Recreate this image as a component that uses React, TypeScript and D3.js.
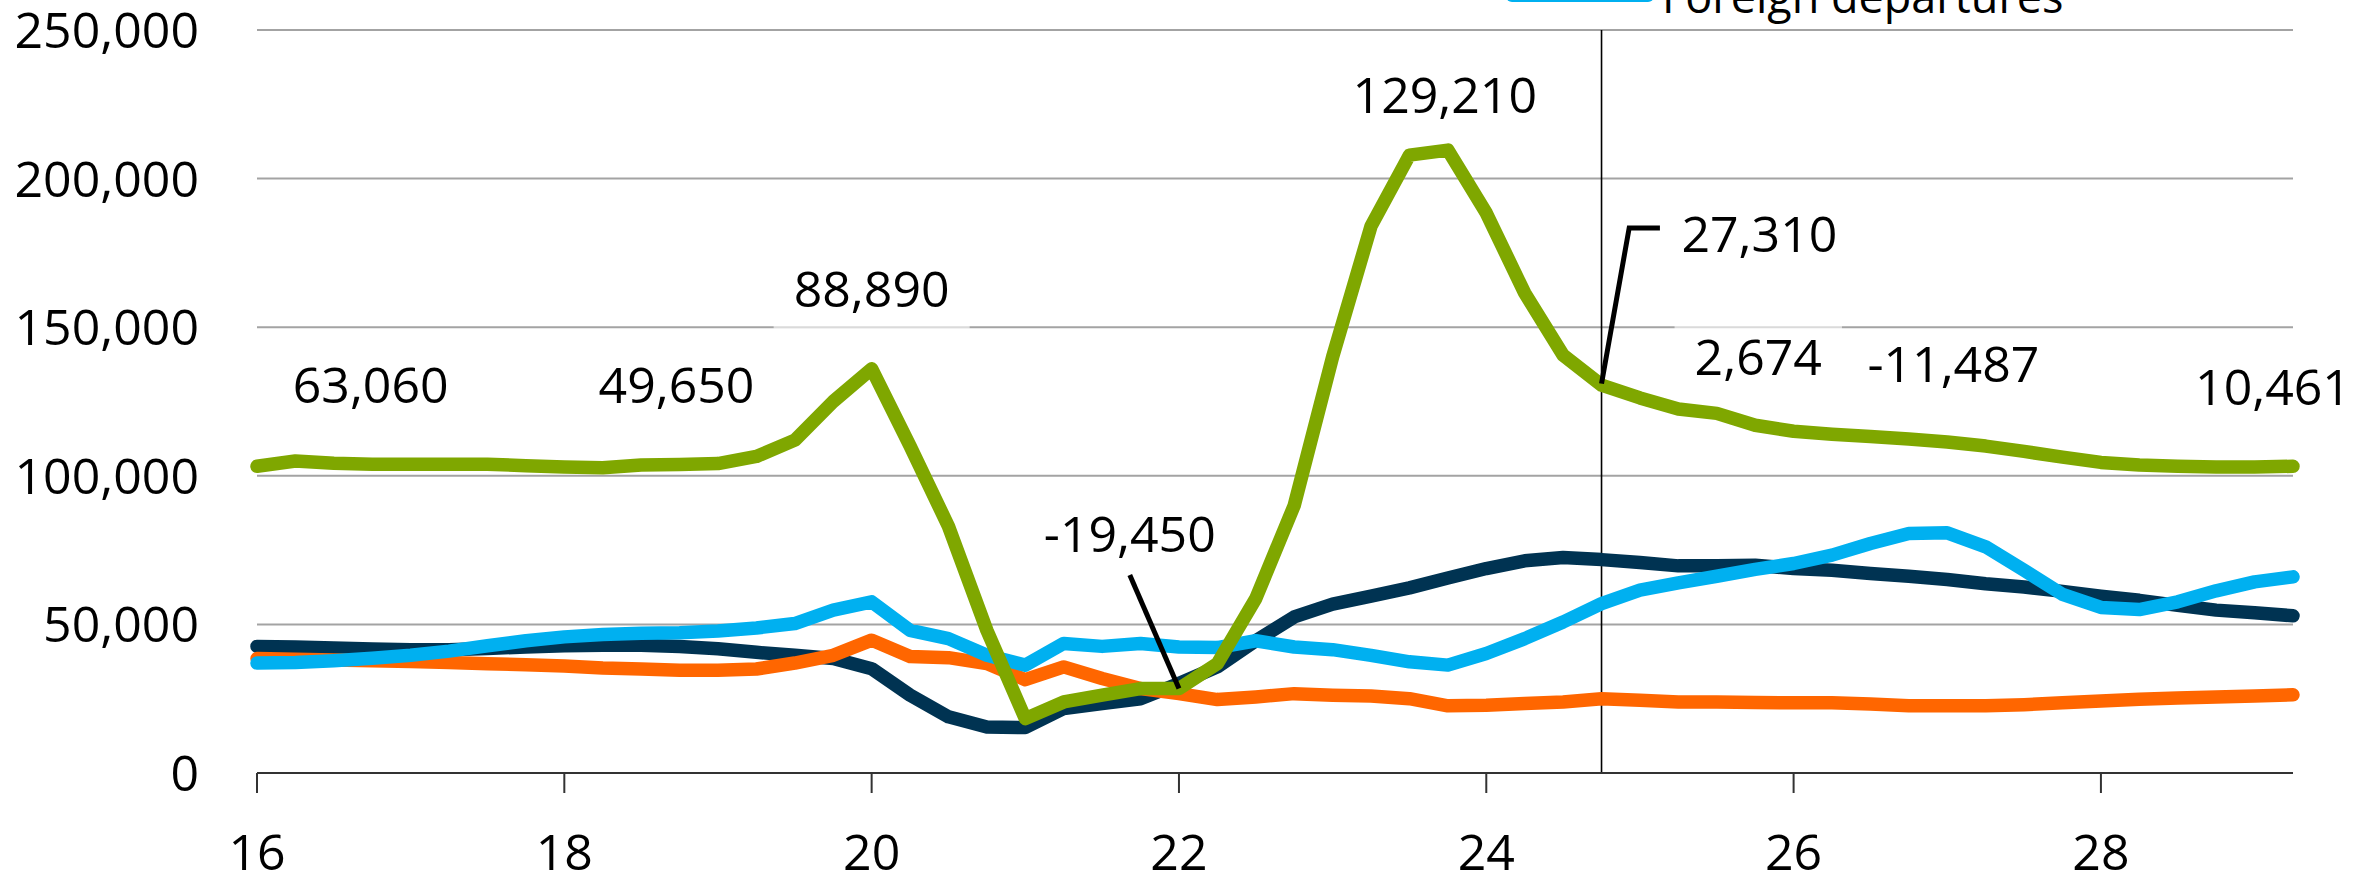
import React from "react";
import * as d3 from "d3";

// Quarters (decimal years, 16 = 2016)
const quarters = [
  16, 16.25, 16.5, 16.75, 17, 17.25, 17.5, 17.75, 18, 18.25, 18.5, 18.75,
  19, 19.25, 19.5, 19.75, 20, 20.25, 20.5, 20.75, 21, 21.25, 21.5, 21.75,
  22, 22.25, 22.5, 22.75, 23, 23.25, 23.5, 23.75, 24, 24.25, 24.5, 24.75,
  25, 25.25, 25.5, 25.75, 26, 26.25, 26.5, 26.75, 27, 27.25, 27.5, 27.75,
  28, 28.25, 28.5, 28.75, 29, 29.25,
];

// Series values (thousands)
const greenSeries = [
  103.2, 105.0, 104.2, 103.9, 103.9, 103.9, 103.9, 103.4, 103.0, 102.7,
  103.6, 103.8, 104.1, 106.5, 112, 125, 136, 110, 83, 48,
  18.3, 23.9, 26.2, 28.4, 28.4, 36.8, 58.7, 90, 140, 184,
  207.9, 209.6, 188.4, 161.5, 140.6, 130.5, 126.2, 122.5, 121, 117,
  115, 114, 113.2, 112.4, 111.4, 110, 108.2, 106.3, 104.5, 103.6,
  103.2, 103, 103, 103.2,
];
const navySeries = [
  42.6, 42.4, 42.1, 41.7, 41.5, 41.5, 41.9, 42.4, 42.8, 43.0,
  43.0, 42.6, 41.8, 40.6, 39.6, 38.5, 35.1, 26.2, 18.9, 15.5,
  15.3, 21.7, 23.4, 25.0, 30.1, 35.7, 44.5, 52.5, 56.8, 59.5,
  62.3, 65.6, 68.8, 71.4, 72.5, 71.8, 70.8, 69.7, 69.7, 69.9,
  68.8, 68.2, 67.1, 66.2, 65.1, 63.7, 62.6, 61.1, 59.5, 58.1,
  56.4, 54.8, 53.9, 52.9,
];
const blueSeries = [
  37.0, 37.2, 37.8, 38.6, 39.6, 41.0, 42.8, 44.5, 45.8, 46.6,
  47.0, 47.2, 47.8, 48.8, 50.3, 54.8, 57.6, 48.0, 45.2, 39.6,
  36.3, 43.6, 42.6, 43.6, 42.4, 42.2, 44.5, 42.4, 41.5, 39.6,
  37.4, 36.3, 40.2, 45.2, 50.8, 57.0, 61.5, 64.0, 66.2, 68.5,
  70.5, 73.3, 77.2, 80.6, 80.8, 76.1, 68.2, 60.1, 55.7, 55.0,
  57.6, 61.3, 64.3, 66.0,
];
const orangeSeries = [
  38.5, 38.3, 38.0, 37.8, 37.5, 37.2, 36.8, 36.4, 36.0, 35.3,
  35.0, 34.6, 34.6, 35.0, 37.0, 39.6, 44.7, 39.2, 38.8, 36.8,
  31.4, 35.7, 31.8, 28.4, 26.7, 24.7, 25.6, 26.7, 26.2, 25.9,
  25.0, 22.6, 22.8, 23.4, 23.9, 25.0, 24.5, 23.9, 23.9, 23.7,
  23.6, 23.6, 23.2, 22.6, 22.6, 22.6, 23.0, 23.6, 24.2, 24.8,
  25.2, 25.6, 25.9, 26.3,
];

const yTicks = [0, 50000, 100000, 150000, 200000, 250000];
const xTicks = [16, 18, 20, 22, 24, 26, 28];
const forecastMarker = 24.75;
const legendLabel = "Foreign departures";

// Annotations (data-space anchors: x in years, y = baseline value)
const annotationTexts = ["63,060", "49,650", "88,890", "129,210", "27,310", "2,674", "-11,487", "10,461", "-19,450"];
const annotationX = [16.74, 18.73, 20.0, 23.73, 25.27, 25.77, 27.04, 29.12, 21.68];
const annotationY = [124500, 124500, 156900, 222200, 175400, 134000, 131600, 123900, 74400];
const annotationAnchor = ["middle", "middle", "middle", "middle", "start", "middle", "middle", "middle", "middle"];

const calloutA = [[24.75, 131000], [24.93, 183400], [25.13, 183400]];
const calloutB = [[21.68, 66600], [22.0, 28400]];

const COLORS = {
  navy: "#003352",
  orange: "#FF6600",
  blue: "#00B0F0",
  green: "#7FA700",
};

const W = 2369;
const H = 878;
const FONT = "'Open Sans', 'Noto Sans', sans-serif";
const FS = 50;

function textWidth(s: string, fs: number) {
  let w = 0;
  for (const c of s) {
    if (c === ",") w += 0.26;
    else if (c === "-") w += 0.32;
    else w += 0.572;
  }
  return w * fs;
}

export default function App() {
  const x = d3.scaleLinear().domain([16, 29.25]).range([257, 2293]);
  const y = d3.scaleLinear().domain([0, 250000]).range([773, 30]);
  const fmt = d3.format(",");

  const line = d3
    .line<number>()
    .x((_, i) => x(quarters[i]))
    .y((d) => y(d * 1000))
    .curve(d3.curveLinear);

  const cLine = d3
    .line<number[]>()
    .x((d) => x(d[0]))
    .y((d) => y(d[1]));

  const series = [
    { data: navySeries, color: COLORS.navy },
    { data: orangeSeries, color: COLORS.orange },
    { data: blueSeries, color: COLORS.blue },
    { data: greenSeries, color: COLORS.green },
  ];

  const [x0, x1] = x.range();

  return (
    <svg
      width={W}
      height={H}
      viewBox={`0 0 ${W} ${H}`}
      style={{ position: "absolute", left: 0, top: 0, display: "block", background: "#fff" }}
      fontFamily={FONT}
    >
      {/* gridlines */}
      {yTicks
        .filter((t) => t > 0)
        .map((t) => (
          <line key={"g" + t} x1={x0} x2={x1} y1={y(t)} y2={y(t)} stroke="#a3a3a3" strokeWidth={2} />
        ))}
      {/* y tick labels */}
      {yTicks.map((t) => (
        <text key={"yl" + t} x={199} y={y(t) + 18} textAnchor="end" fontSize={FS} fill="#000">
          {fmt(t)}
        </text>
      ))}
      {/* forecast marker */}
      <line
        x1={x(forecastMarker)}
        x2={x(forecastMarker)}
        y1={y(250000)}
        y2={y(0)}
        stroke="#000"
        strokeWidth={1.6}
      />
      {/* x axis */}
      <line x1={x0} x2={x1} y1={y(0)} y2={y(0)} stroke="#333" strokeWidth={2} />
      {xTicks.map((t) => (
        <g key={"xt" + t}>
          <line x1={x(t)} x2={x(t)} y1={y(0)} y2={y(0) + 20} stroke="#333" strokeWidth={2} />
          <text x={x(t)} y={y(0) + 97} textAnchor="middle" fontSize={FS} fill="#000">
            {t}
          </text>
        </g>
      ))}
      {/* series */}
      {series.map((s, i) => (
        <path
          key={"s" + i}
          d={line(s.data) || ""}
          fill="none"
          stroke={s.color}
          strokeWidth={13.5}
          strokeLinejoin="round"
          strokeLinecap="round"
        />
      ))}
      {/* annotation boxes + labels */}
      {annotationTexts.map((t, i) => {
        const w = textWidth(t, FS);
        const ax = x(annotationX[i]);
        const by = y(annotationY[i]);
        const left = annotationAnchor[i] === "start" ? ax : ax - w / 2;
        return (
          <g key={"a" + i}>
            <rect x={left - 20} y={by - 50} width={w + 40} height={72} fill="#fff" fillOpacity={0.6} />
            <text x={ax} y={by} textAnchor={annotationAnchor[i] as any} fontSize={FS} fill="#000">
              {t}
            </text>
          </g>
        );
      })}
      {/* callouts */}
      <path d={cLine(calloutA) || ""} fill="none" stroke="#000" strokeWidth={5} />
      <path d={cLine(calloutB) || ""} fill="none" stroke="#000" strokeWidth={5} />
      {/* legend (clipped at top) */}
      <line x1={1512} x2={1648} y1={-4} y2={-4} stroke={COLORS.blue} strokeWidth={12} strokeLinecap="round" />
      <text x={1662} y={13} fontSize={45} fill="#000">
        {legendLabel}
      </text>
    </svg>
  );
}
